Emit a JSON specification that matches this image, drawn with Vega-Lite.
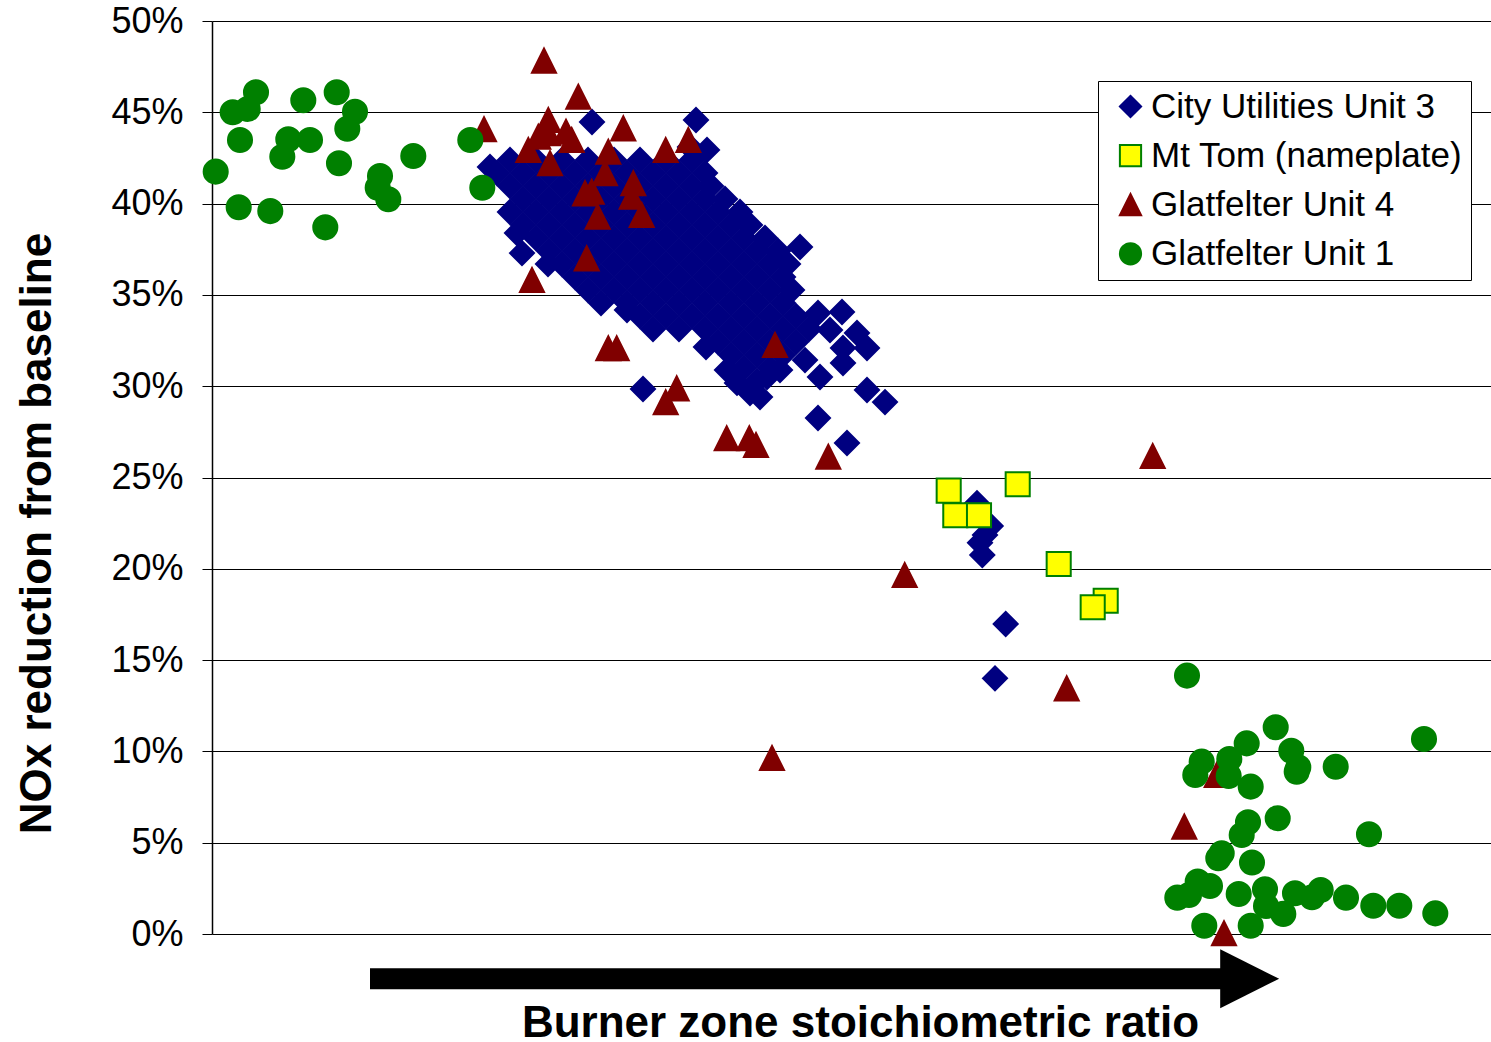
{
"$schema": "https://vega.github.io/schema/vega-lite/v6.json",
"width": 1279, "height": 913,
"autosize": "none",
"padding": {"left": 212, "top": 21, "right": 0, "bottom": 108},
"background": "white",
"config": {"view": {"stroke": null}, "font": "Liberation Sans"},
"layer": [
{
"data": {"values": [
{"unit":"City Utilities Unit 3","x":29.8,"y":42.39},{"unit":"City Utilities Unit 3","x":32.4,"y":42.39},{"unit":"City Utilities Unit 3","x":35.0,"y":42.39},{"unit":"City Utilities Unit 3","x":37.6,"y":42.39},{"unit":"City Utilities Unit 3","x":40.2,"y":42.39},{"unit":"City Utilities Unit 3","x":42.8,"y":42.39},{"unit":"City Utilities Unit 3","x":45.4,"y":42.39},{"unit":"City Utilities Unit 3","x":48.0,"y":42.39},
{"unit":"City Utilities Unit 3","x":28.5,"y":41.68},{"unit":"City Utilities Unit 3","x":31.1,"y":41.68},{"unit":"City Utilities Unit 3","x":33.7,"y":41.68},{"unit":"City Utilities Unit 3","x":36.3,"y":41.68},{"unit":"City Utilities Unit 3","x":38.9,"y":41.68},{"unit":"City Utilities Unit 3","x":41.5,"y":41.68},{"unit":"City Utilities Unit 3","x":44.1,"y":41.68},{"unit":"City Utilities Unit 3","x":46.7,"y":41.68},{"unit":"City Utilities Unit 3","x":49.3,"y":41.68},
{"unit":"City Utilities Unit 3","x":29.8,"y":40.96},{"unit":"City Utilities Unit 3","x":32.4,"y":40.96},{"unit":"City Utilities Unit 3","x":35.0,"y":40.96},{"unit":"City Utilities Unit 3","x":37.6,"y":40.96},{"unit":"City Utilities Unit 3","x":40.2,"y":40.96},{"unit":"City Utilities Unit 3","x":42.8,"y":40.96},{"unit":"City Utilities Unit 3","x":45.4,"y":40.96},{"unit":"City Utilities Unit 3","x":48.0,"y":40.96},{"unit":"City Utilities Unit 3","x":49.9,"y":40.96},
{"unit":"City Utilities Unit 3","x":31.1,"y":40.25},{"unit":"City Utilities Unit 3","x":33.7,"y":40.25},{"unit":"City Utilities Unit 3","x":36.3,"y":40.25},{"unit":"City Utilities Unit 3","x":38.9,"y":40.25},{"unit":"City Utilities Unit 3","x":41.5,"y":40.25},{"unit":"City Utilities Unit 3","x":44.1,"y":40.25},{"unit":"City Utilities Unit 3","x":46.7,"y":40.25},{"unit":"City Utilities Unit 3","x":49.3,"y":40.25},{"unit":"City Utilities Unit 3","x":51.3,"y":40.25},
{"unit":"City Utilities Unit 3","x":29.8,"y":39.54},{"unit":"City Utilities Unit 3","x":32.4,"y":39.54},{"unit":"City Utilities Unit 3","x":35.0,"y":39.54},{"unit":"City Utilities Unit 3","x":37.6,"y":39.54},{"unit":"City Utilities Unit 3","x":40.2,"y":39.54},{"unit":"City Utilities Unit 3","x":42.8,"y":39.54},{"unit":"City Utilities Unit 3","x":45.4,"y":39.54},{"unit":"City Utilities Unit 3","x":48.0,"y":39.54},{"unit":"City Utilities Unit 3","x":50.6,"y":39.54},{"unit":"City Utilities Unit 3","x":52.8,"y":39.54},
{"unit":"City Utilities Unit 3","x":31.1,"y":38.83},{"unit":"City Utilities Unit 3","x":33.7,"y":38.83},{"unit":"City Utilities Unit 3","x":36.3,"y":38.83},{"unit":"City Utilities Unit 3","x":38.9,"y":38.83},{"unit":"City Utilities Unit 3","x":41.5,"y":38.83},{"unit":"City Utilities Unit 3","x":44.1,"y":38.83},{"unit":"City Utilities Unit 3","x":46.7,"y":38.83},{"unit":"City Utilities Unit 3","x":49.3,"y":38.83},{"unit":"City Utilities Unit 3","x":51.9,"y":38.83},{"unit":"City Utilities Unit 3","x":53.8,"y":38.83},
{"unit":"City Utilities Unit 3","x":32.4,"y":38.12},{"unit":"City Utilities Unit 3","x":35.0,"y":38.12},{"unit":"City Utilities Unit 3","x":37.6,"y":38.12},{"unit":"City Utilities Unit 3","x":40.2,"y":38.12},{"unit":"City Utilities Unit 3","x":42.8,"y":38.12},{"unit":"City Utilities Unit 3","x":45.4,"y":38.12},{"unit":"City Utilities Unit 3","x":48.0,"y":38.12},{"unit":"City Utilities Unit 3","x":50.6,"y":38.12},{"unit":"City Utilities Unit 3","x":53.2,"y":38.12},{"unit":"City Utilities Unit 3","x":55.3,"y":38.12},
{"unit":"City Utilities Unit 3","x":33.7,"y":37.40},{"unit":"City Utilities Unit 3","x":36.3,"y":37.40},{"unit":"City Utilities Unit 3","x":38.9,"y":37.40},{"unit":"City Utilities Unit 3","x":41.5,"y":37.40},{"unit":"City Utilities Unit 3","x":44.1,"y":37.40},{"unit":"City Utilities Unit 3","x":46.7,"y":37.40},{"unit":"City Utilities Unit 3","x":49.3,"y":37.40},{"unit":"City Utilities Unit 3","x":51.9,"y":37.40},{"unit":"City Utilities Unit 3","x":54.5,"y":37.40},{"unit":"City Utilities Unit 3","x":56.6,"y":37.40},
{"unit":"City Utilities Unit 3","x":33.6,"y":36.69},{"unit":"City Utilities Unit 3","x":35.0,"y":36.69},{"unit":"City Utilities Unit 3","x":37.6,"y":36.69},{"unit":"City Utilities Unit 3","x":40.2,"y":36.69},{"unit":"City Utilities Unit 3","x":42.8,"y":36.69},{"unit":"City Utilities Unit 3","x":45.4,"y":36.69},{"unit":"City Utilities Unit 3","x":48.0,"y":36.69},{"unit":"City Utilities Unit 3","x":50.6,"y":36.69},{"unit":"City Utilities Unit 3","x":53.2,"y":36.69},{"unit":"City Utilities Unit 3","x":55.8,"y":36.69},{"unit":"City Utilities Unit 3","x":57.6,"y":36.69},
{"unit":"City Utilities Unit 3","x":36.3,"y":35.98},{"unit":"City Utilities Unit 3","x":38.9,"y":35.98},{"unit":"City Utilities Unit 3","x":41.5,"y":35.98},{"unit":"City Utilities Unit 3","x":44.1,"y":35.98},{"unit":"City Utilities Unit 3","x":46.7,"y":35.98},{"unit":"City Utilities Unit 3","x":49.3,"y":35.98},{"unit":"City Utilities Unit 3","x":51.9,"y":35.98},{"unit":"City Utilities Unit 3","x":54.5,"y":35.98},{"unit":"City Utilities Unit 3","x":57.1,"y":35.98},
{"unit":"City Utilities Unit 3","x":37.6,"y":35.27},{"unit":"City Utilities Unit 3","x":40.2,"y":35.27},{"unit":"City Utilities Unit 3","x":42.8,"y":35.27},{"unit":"City Utilities Unit 3","x":45.4,"y":35.27},{"unit":"City Utilities Unit 3","x":48.0,"y":35.27},{"unit":"City Utilities Unit 3","x":50.6,"y":35.27},{"unit":"City Utilities Unit 3","x":53.2,"y":35.27},{"unit":"City Utilities Unit 3","x":55.8,"y":35.27},{"unit":"City Utilities Unit 3","x":58.0,"y":35.27},
{"unit":"City Utilities Unit 3","x":38.9,"y":34.56},{"unit":"City Utilities Unit 3","x":41.5,"y":34.56},{"unit":"City Utilities Unit 3","x":44.1,"y":34.56},{"unit":"City Utilities Unit 3","x":46.7,"y":34.56},{"unit":"City Utilities Unit 3","x":49.3,"y":34.56},{"unit":"City Utilities Unit 3","x":51.9,"y":34.56},{"unit":"City Utilities Unit 3","x":54.5,"y":34.56},{"unit":"City Utilities Unit 3","x":57.1,"y":34.56},
{"unit":"City Utilities Unit 3","x":42.8,"y":33.84},{"unit":"City Utilities Unit 3","x":45.4,"y":33.84},{"unit":"City Utilities Unit 3","x":48.0,"y":33.84},{"unit":"City Utilities Unit 3","x":50.6,"y":33.84},{"unit":"City Utilities Unit 3","x":53.2,"y":33.84},{"unit":"City Utilities Unit 3","x":55.8,"y":33.84},{"unit":"City Utilities Unit 3","x":58.4,"y":33.84},
{"unit":"City Utilities Unit 3","x":44.1,"y":33.13},{"unit":"City Utilities Unit 3","x":46.7,"y":33.13},{"unit":"City Utilities Unit 3","x":49.3,"y":33.13},{"unit":"City Utilities Unit 3","x":51.9,"y":33.13},{"unit":"City Utilities Unit 3","x":54.5,"y":33.13},{"unit":"City Utilities Unit 3","x":57.1,"y":33.13},{"unit":"City Utilities Unit 3","x":59.7,"y":33.13},
{"unit":"City Utilities Unit 3","x":50.6,"y":32.42},{"unit":"City Utilities Unit 3","x":53.2,"y":32.42},{"unit":"City Utilities Unit 3","x":55.8,"y":32.42},{"unit":"City Utilities Unit 3","x":58.4,"y":32.42},
{"unit":"City Utilities Unit 3","x":51.9,"y":31.71},{"unit":"City Utilities Unit 3","x":54.5,"y":31.71},{"unit":"City Utilities Unit 3","x":57.1,"y":31.71},
{"unit":"City Utilities Unit 3","x":53.2,"y":31.00},{"unit":"City Utilities Unit 3","x":55.8,"y":31.00},
{"unit":"City Utilities Unit 3","x":54.5,"y":30.28},
{"unit":"City Utilities Unit 3","x":38.0,"y":44.47},{"unit":"City Utilities Unit 3","x":48.4,"y":44.58},{"unit":"City Utilities Unit 3","x":49.5,"y":42.94},{"unit":"City Utilities Unit 3","x":47.8,"y":43.10},{"unit":"City Utilities Unit 3","x":27.8,"y":42.0},{"unit":"City Utilities Unit 3","x":30.5,"y":38.39},{"unit":"City Utilities Unit 3","x":31.0,"y":37.29},{"unit":"City Utilities Unit 3","x":58.8,"y":37.62},{"unit":"City Utilities Unit 3","x":41.5,"y":34.17},{"unit":"City Utilities Unit 3","x":49.4,"y":32.15},{"unit":"City Utilities Unit 3","x":51.5,"y":30.89},{"unit":"City Utilities Unit 3","x":52.5,"y":30.18},{"unit":"City Utilities Unit 3","x":53.8,"y":29.63},{"unit":"City Utilities Unit 3","x":54.8,"y":29.41},{"unit":"City Utilities Unit 3","x":55.5,"y":30.50},{"unit":"City Utilities Unit 3","x":56.8,"y":30.89},{"unit":"City Utilities Unit 3","x":43.1,"y":29.85},{"unit":"City Utilities Unit 3","x":60.6,"y":34.01},{"unit":"City Utilities Unit 3","x":63.0,"y":34.06},{"unit":"City Utilities Unit 3","x":61.8,"y":33.08},{"unit":"City Utilities Unit 3","x":64.5,"y":32.91},{"unit":"City Utilities Unit 3","x":65.5,"y":32.09},{"unit":"City Utilities Unit 3","x":63.1,"y":32.09},{"unit":"City Utilities Unit 3","x":63.1,"y":31.27},{"unit":"City Utilities Unit 3","x":60.8,"y":30.50},{"unit":"City Utilities Unit 3","x":59.3,"y":31.43},{"unit":"City Utilities Unit 3","x":65.5,"y":29.79},{"unit":"City Utilities Unit 3","x":67.3,"y":29.13},{"unit":"City Utilities Unit 3","x":60.6,"y":28.26},{"unit":"City Utilities Unit 3","x":63.5,"y":26.89},
{"unit":"City Utilities Unit 3","x":76.5,"y":23.59},{"unit":"City Utilities Unit 3","x":77.87,"y":22.34},{"unit":"City Utilities Unit 3","x":77.3,"y":21.85},{"unit":"City Utilities Unit 3","x":76.8,"y":21.43},{"unit":"City Utilities Unit 3","x":77.03,"y":20.76},{"unit":"City Utilities Unit 3","x":79.37,"y":16.98},{"unit":"City Utilities Unit 3","x":78.3,"y":14.0},
{"unit":"Mt Tom (nameplate)","x":73.67,"y":24.28},{"unit":"Mt Tom (nameplate)","x":80.57,"y":24.63},{"unit":"Mt Tom (nameplate)","x":74.33,"y":22.93},{"unit":"Mt Tom (nameplate)","x":76.7,"y":22.93},{"unit":"Mt Tom (nameplate)","x":84.67,"y":20.26},{"unit":"Mt Tom (nameplate)","x":89.37,"y":18.25},{"unit":"Mt Tom (nameplate)","x":88.07,"y":17.89},
{"unit":"Glatfelter Unit 4","x":33.2,"y":47.83},{"unit":"Glatfelter Unit 4","x":36.63,"y":45.85},{"unit":"Glatfelter Unit 4","x":27.2,"y":44.07},{"unit":"Glatfelter Unit 4","x":33.63,"y":44.58},{"unit":"Glatfelter Unit 4","x":33.63,"y":43.85},{"unit":"Glatfelter Unit 4","x":32.63,"y":43.66},{"unit":"Glatfelter Unit 4","x":35.4,"y":43.94},{"unit":"Glatfelter Unit 4","x":35.97,"y":43.48},{"unit":"Glatfelter Unit 4","x":31.63,"y":42.94},{"unit":"Glatfelter Unit 4","x":33.8,"y":42.21},{"unit":"Glatfelter Unit 4","x":41.13,"y":44.12},{"unit":"Glatfelter Unit 4","x":39.63,"y":42.84},{"unit":"Glatfelter Unit 4","x":45.37,"y":42.94},{"unit":"Glatfelter Unit 4","x":47.63,"y":43.48},{"unit":"Glatfelter Unit 4","x":39.3,"y":41.66},{"unit":"Glatfelter Unit 4","x":37.97,"y":40.65},{"unit":"Glatfelter Unit 4","x":37.3,"y":40.56},{"unit":"Glatfelter Unit 4","x":42.13,"y":41.11},{"unit":"Glatfelter Unit 4","x":41.97,"y":40.38},{"unit":"Glatfelter Unit 4","x":42.97,"y":39.38},{"unit":"Glatfelter Unit 4","x":38.57,"y":39.28},
{"unit":"Glatfelter Unit 4","x":37.47,"y":37.0},{"unit":"Glatfelter Unit 4","x":32.0,"y":35.82},{"unit":"Glatfelter Unit 4","x":39.63,"y":32.08},{"unit":"Glatfelter Unit 4","x":40.47,"y":32.08},{"unit":"Glatfelter Unit 4","x":46.47,"y":29.88},{"unit":"Glatfelter Unit 4","x":45.37,"y":29.12},{"unit":"Glatfelter Unit 4","x":56.3,"y":32.26},{"unit":"Glatfelter Unit 4","x":51.47,"y":27.15},{"unit":"Glatfelter Unit 4","x":53.73,"y":27.15},{"unit":"Glatfelter Unit 4","x":54.4,"y":26.78},{"unit":"Glatfelter Unit 4","x":61.63,"y":26.14},{"unit":"Glatfelter Unit 4","x":69.27,"y":19.66},{"unit":"Glatfelter Unit 4","x":85.47,"y":13.45},{"unit":"Glatfelter Unit 4","x":94.07,"y":26.18},{"unit":"Glatfelter Unit 4","x":56.0,"y":9.64},{"unit":"Glatfelter Unit 4","x":97.23,"y":5.88},{"unit":"Glatfelter Unit 4","x":101.2,"y":0.04},{"unit":"Glatfelter Unit 4","x":100.47,"y":8.71},
{"unit":"Glatfelter Unit 1","x":4.4,"y":46.10},{"unit":"Glatfelter Unit 1","x":2.07,"y":45.0},{"unit":"Glatfelter Unit 1","x":3.57,"y":45.18},{"unit":"Glatfelter Unit 1","x":9.13,"y":45.66},{"unit":"Glatfelter Unit 1","x":12.47,"y":46.10},{"unit":"Glatfelter Unit 1","x":14.3,"y":45.03},{"unit":"Glatfelter Unit 1","x":13.53,"y":44.10},{"unit":"Glatfelter Unit 1","x":2.8,"y":43.48},{"unit":"Glatfelter Unit 1","x":7.63,"y":43.52},{"unit":"Glatfelter Unit 1","x":9.8,"y":43.48},{"unit":"Glatfelter Unit 1","x":7.03,"y":42.57},{"unit":"Glatfelter Unit 1","x":12.7,"y":42.21},{"unit":"Glatfelter Unit 1","x":0.37,"y":41.75},{"unit":"Glatfelter Unit 1","x":16.8,"y":41.51},{"unit":"Glatfelter Unit 1","x":16.57,"y":40.87},{"unit":"Glatfelter Unit 1","x":17.63,"y":40.24},{"unit":"Glatfelter Unit 1","x":20.13,"y":42.61},{"unit":"Glatfelter Unit 1","x":2.67,"y":39.80},{"unit":"Glatfelter Unit 1","x":5.83,"y":39.59},{"unit":"Glatfelter Unit 1","x":11.33,"y":38.70},{"unit":"Glatfelter Unit 1","x":25.83,"y":43.48},{"unit":"Glatfelter Unit 1","x":27.03,"y":40.87},
{"unit":"Glatfelter Unit 1","x":97.5,"y":14.15},{"unit":"Glatfelter Unit 1","x":106.37,"y":11.32},{"unit":"Glatfelter Unit 1","x":121.2,"y":10.68},{"unit":"Glatfelter Unit 1","x":103.47,"y":10.44},{"unit":"Glatfelter Unit 1","x":98.97,"y":9.44},{"unit":"Glatfelter Unit 1","x":101.73,"y":9.58},{"unit":"Glatfelter Unit 1","x":107.93,"y":10.04},{"unit":"Glatfelter Unit 1","x":98.33,"y":8.71},{"unit":"Glatfelter Unit 1","x":101.67,"y":8.65},{"unit":"Glatfelter Unit 1","x":108.63,"y":9.13},{"unit":"Glatfelter Unit 1","x":108.47,"y":8.89},{"unit":"Glatfelter Unit 1","x":112.37,"y":9.16},{"unit":"Glatfelter Unit 1","x":103.87,"y":8.07},{"unit":"Glatfelter Unit 1","x":106.57,"y":6.34},{"unit":"Glatfelter Unit 1","x":103.6,"y":6.12},{"unit":"Glatfelter Unit 1","x":102.97,"y":5.42},{"unit":"Glatfelter Unit 1","x":115.7,"y":5.46},{"unit":"Glatfelter Unit 1","x":100.97,"y":4.42},{"unit":"Glatfelter Unit 1","x":100.63,"y":4.15},{"unit":"Glatfelter Unit 1","x":104.0,"y":3.92},{"unit":"Glatfelter Unit 1","x":98.57,"y":2.87},{"unit":"Glatfelter Unit 1","x":99.8,"y":2.63},{"unit":"Glatfelter Unit 1","x":96.53,"y":1.99},{"unit":"Glatfelter Unit 1","x":97.7,"y":2.14},{"unit":"Glatfelter Unit 1","x":102.67,"y":2.19},{"unit":"Glatfelter Unit 1","x":105.3,"y":2.45},{"unit":"Glatfelter Unit 1","x":105.4,"y":1.53},{"unit":"Glatfelter Unit 1","x":107.13,"y":1.10},{"unit":"Glatfelter Unit 1","x":108.3,"y":2.23},{"unit":"Glatfelter Unit 1","x":110.0,"y":2.01},{"unit":"Glatfelter Unit 1","x":110.87,"y":2.41},{"unit":"Glatfelter Unit 1","x":113.4,"y":1.99},{"unit":"Glatfelter Unit 1","x":116.13,"y":1.55},{"unit":"Glatfelter Unit 1","x":118.73,"y":1.55},{"unit":"Glatfelter Unit 1","x":122.33,"y":1.13},{"unit":"Glatfelter Unit 1","x":99.23,"y":0.45},{"unit":"Glatfelter Unit 1","x":103.87,"y":0.45}
]},
"mark": {"type": "point", "filled": true, "strokeWidth": 2, "opacity": 1, "size": 580},
"encoding": {
"x": {"field": "x", "type": "quantitative", "scale": {"domain": [0, 127.9], "nice": false, "zero": false},
  "axis": {"title": "Burner zone stoichiometric ratio", "labels": false, "ticks": false, "domain": false, "grid": false,
    "titleFontSize": 44, "titleFontWeight": "bold", "titleColor": "black", "titleFont": "Liberation Sans",
    "titleX": 648, "titleY": 102, "titleAlign": "center", "titleBaseline": "alphabetic"}},
"y": {"field": "y", "type": "quantitative", "scale": {"domain": [0, 50], "nice": false, "zero": false},
  "axis": {"title": "NOx reduction from baseline", "values": [0,5,10,15,20,25,30,35,40,45,50],
    "labelExpr": "datum.value + '%'", "labelFontSize": 36, "labelFont": "Liberation Sans", "labelColor": "black",
    "labelPadding": 19, "labelFlush": false, "labelOverlap": false, "labelBaseline": "middle",
    "tickSize": 10, "tickColor": "black", "tickWidth": 1, "domainColor": "black", "domainWidth": 1.5,
    "grid": true, "gridColor": "black", "gridWidth": 1,
    "titleFontSize": 44, "titleFontWeight": "bold", "titleColor": "black", "titleFont": "Liberation Sans",
    "titleAngle": -90, "titleX": -162, "titleY": 512, "titleAlign": "center", "titleBaseline": "alphabetic"}},
"color": {"field": "unit", "type": "nominal",
  "scale": {"domain": ["City Utilities Unit 3", "Mt Tom (nameplate)", "Glatfelter Unit 4", "Glatfelter Unit 1"], "range": ["#000080", "#FFFF00", "#800000", "#008000"]},
  "legend": {"title": null, "orient": "none", "legendX": 886, "legendY": 60, "padding": 8, "symbolOffset": 7, "labelOffset": 3,
    "labelFontSize": 35, "labelFont": "Liberation Sans", "labelColor": "black", "symbolSize": 450, "symbolStrokeWidth": 2,
    "rowPadding": 13.1, "strokeColor": "black", "fillColor": "white", "labelLimit": 0, "symbolOpacity": 1}},
"stroke": {"field": "unit", "type": "nominal",
  "scale": {"domain": ["City Utilities Unit 3", "Mt Tom (nameplate)", "Glatfelter Unit 4", "Glatfelter Unit 1"], "range": ["#000080", "#008000", "#800000", "#008000"]}},
"shape": {"field": "unit", "type": "nominal",
  "scale": {"domain": ["City Utilities Unit 3", "Mt Tom (nameplate)", "Glatfelter Unit 4", "Glatfelter Unit 1"], "range": ["diamond", "square", "M -1 1 L 0 -1 L 1 1 Z", "circle"]}}
}
},
{
"data": {"values": [{}]},
"mark": {"type": "rule", "strokeWidth": 21, "color": "black", "strokeCap": "butt"},
"encoding": {"x": {"datum": 15.8}, "x2": {"datum": 101.0}, "y": {"datum": -2.45}}
},
{
"data": {"values": [{}]},
"mark": {"type": "point", "shape": "M -1 -1 L 1 0 L -1 1 Z", "filled": true, "color": "black", "size": 3481, "opacity": 1},
"encoding": {"x": {"datum": 103.77}, "y": {"datum": -2.45}}
}
]
}
